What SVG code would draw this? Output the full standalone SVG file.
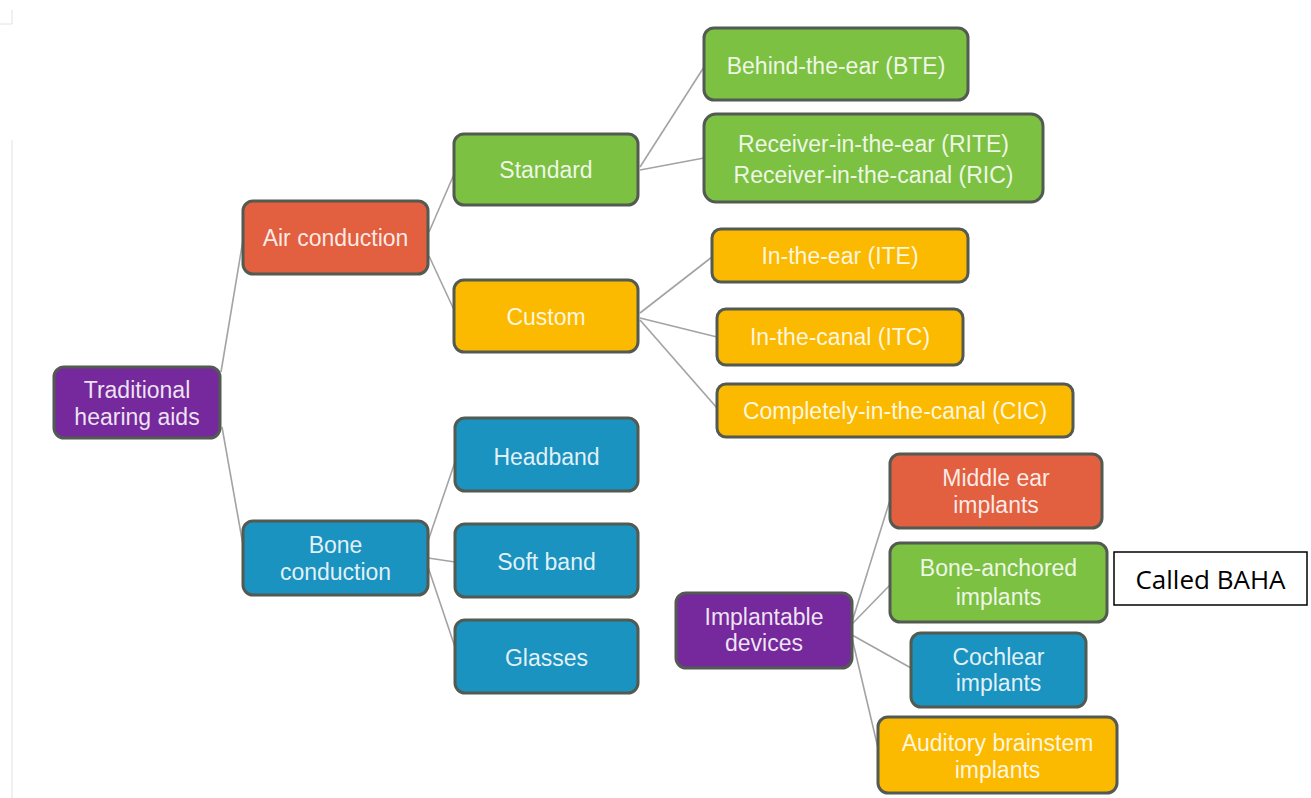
<svg xmlns="http://www.w3.org/2000/svg" width="1311" height="798" viewBox="0 0 1311 798">
<style>
.n rect{stroke:#535a52;stroke-width:3}
.n text{font-family:"Liberation Sans",Arial,sans-serif;font-size:23px;fill:#ffffff;fill-opacity:0.88;text-anchor:middle}
.pu{fill:#76299c}
.rd{fill:#e25f3f}
.gr{fill:#7dc142}
.yl{fill:#fbb900}
.bl{fill:#1b93c0}
.c line{stroke:#a3a3a3;stroke-width:1.6}
.edge line{stroke:#e2e2e2;stroke-width:1}
</style>
<rect width="1311" height="798" fill="#ffffff"/>
<g class="edge">
<line x1="0" y1="24" x2="12" y2="24"/>
<line x1="12" y1="10" x2="12" y2="24"/>
<line x1="12" y1="140" x2="12" y2="798"/>
</g>
<g class="c" id="connectors">
<line x1="221" y1="372" x2="243" y2="240"/>
<line x1="222" y1="427" x2="243" y2="545"/>
<line x1="429" y1="232" x2="455" y2="172"/>
<line x1="429" y1="256" x2="455" y2="312"/>
<line x1="640" y1="167" x2="704" y2="67"/>
<line x1="640" y1="170" x2="704" y2="158"/>
<line x1="640" y1="313" x2="712" y2="257"/>
<line x1="640" y1="318" x2="717" y2="337"/>
<line x1="640" y1="320" x2="717" y2="408"/>
<line x1="428" y1="541" x2="455" y2="462"/>
<line x1="428" y1="558" x2="455" y2="562"/>
<line x1="428" y1="567" x2="455" y2="647"/>
<line x1="852" y1="622" x2="890" y2="500"/>
<line x1="852" y1="624" x2="890" y2="585"/>
<line x1="852" y1="635" x2="911" y2="668"/>
<line x1="852" y1="638" x2="878" y2="748"/>
</g>
<g class="n" id="traditional"><rect class="pu" x="54" y="367" width="166" height="71" rx="10"/><text x="137" y="398">Traditional</text><text x="137" y="425">hearing aids</text></g>
<g class="n" id="air"><rect class="rd" x="243" y="201" width="185" height="73" rx="10"/><text x="335.5" y="246">Air conduction</text></g>
<g class="n" id="bone"><rect class="bl" x="243" y="521" width="185" height="74" rx="10"/><text x="335.5" y="553">Bone</text><text x="335.5" y="580">conduction</text></g>
<g class="n" id="standard"><rect class="gr" x="454" y="134" width="184" height="71" rx="10"/><text x="546" y="178">Standard</text></g>
<g class="n" id="custom"><rect class="yl" x="454" y="280" width="184" height="72" rx="10"/><text x="546" y="325">Custom</text></g>
<g class="n" id="bte"><rect class="gr" x="704" y="28" width="264" height="72" rx="10"/><text x="836" y="74">Behind-the-ear (BTE)</text></g>
<g class="n" id="rite"><rect class="gr" x="704" y="114" width="339" height="88" rx="12"/><text x="873.5" y="152">Receiver-in-the-ear (RITE)</text><text x="873.5" y="183">Receiver-in-the-canal (RIC)</text></g>
<g class="n" id="ite"><rect class="yl" x="712" y="229" width="256" height="53" rx="9"/><text x="840" y="264">In-the-ear (ITE)</text></g>
<g class="n" id="itc"><rect class="yl" x="717" y="309" width="246" height="56" rx="9"/><text x="840" y="345">In-the-canal (ITC)</text></g>
<g class="n" id="cic"><rect class="yl" x="717" y="384" width="356" height="53" rx="9"/><text x="895" y="419">Completely-in-the-canal (CIC)</text></g>
<g class="n" id="headband"><rect class="bl" x="455" y="418" width="183" height="73" rx="10"/><text x="546.5" y="465">Headband</text></g>
<g class="n" id="softband"><rect class="bl" x="455" y="524" width="183" height="73" rx="10"/><text x="546.5" y="570">Soft band</text></g>
<g class="n" id="glasses"><rect class="bl" x="455" y="620" width="183" height="73" rx="10"/><text x="546.5" y="666">Glasses</text></g>
<g class="n" id="implantable"><rect class="pu" x="676" y="593" width="176" height="75" rx="10"/><text x="764" y="625">Implantable</text><text x="764" y="651">devices</text></g>
<g class="n" id="middleear"><rect class="rd" x="890" y="454" width="212" height="74" rx="10"/><text x="996" y="486">Middle ear</text><text x="996" y="513">implants</text></g>
<g class="n" id="boneanchored"><rect class="gr" x="890" y="543" width="217" height="79" rx="10"/><text x="998.5" y="576">Bone-anchored</text><text x="998.5" y="605">implants</text></g>
<g class="n" id="cochlear"><rect class="bl" x="911" y="633" width="175" height="74" rx="10"/><text x="998.5" y="665">Cochlear</text><text x="998.5" y="691">implants</text></g>
<g class="n" id="abi"><rect class="yl" x="878" y="717" width="239" height="76" rx="10"/><text x="997.5" y="751">Auditory brainstem</text><text x="997.5" y="778">implants</text></g>
<g id="baha"><rect x="1114" y="552" width="193" height="53" fill="#ffffff" stroke="#000000" stroke-width="1.5"/><text x="1210.5" y="589" font-family="Open Sans, Liberation Sans, sans-serif" font-size="26" fill="#000000" text-anchor="middle">Called BAHA</text></g>
</svg>
